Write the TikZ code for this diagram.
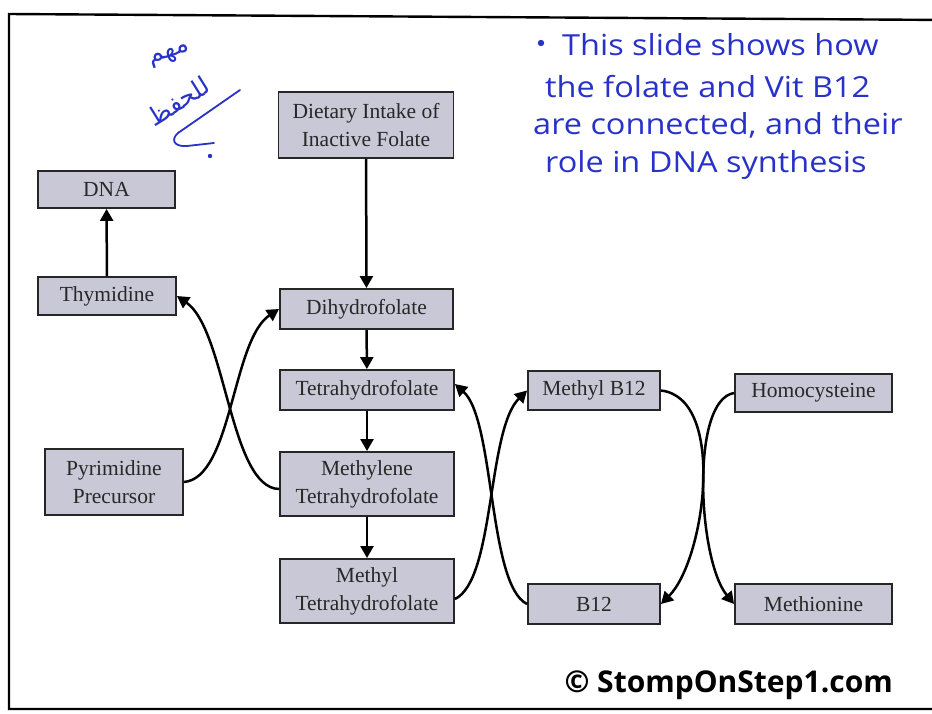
\documentclass[tikz,border=0pt]{standalone}
\usepackage{fontspec}
\setmainfont{Liberation Serif}
\newfontfamily\handfont{Open Sans}
\newfontfamily\markfont{Open Sans}
\newfontfamily\arabicfont[Script=Arabic]{DejaVu Sans}
\TeXXeTstate=1
\usetikzlibrary{arrows.meta}
\definecolor{boxfill}{RGB}{200,200,214}
\definecolor{ink}{RGB}{40,50,200}
\definecolor{boxtext}{RGB}{40,40,40}

\begin{document}
\begin{tikzpicture}[x=1pt,y=-1pt,
  box/.style={draw=black!85,line width=1.9pt,fill=boxfill,inner sep=0pt,align=center,
              font=\fontsize{21.5}{28}\selectfont,text=boxtext},
  flow/.style={line width=2.5pt,-{Triangle[length=12pt,width=13pt]}},
  note/.style={anchor=base west,text=ink,font=\handfont\fontsize{29}{30}\selectfont,inner sep=0pt},
  scrawl/.style={text=ink,inner sep=0pt,font=\arabicfont\fontsize{25}{26}\selectfont}]
\useasboundingbox (0,0) rectangle (932,713);
\fill[white] (0,0) rectangle (932,713);
% slide frame
\draw[line width=2.4pt] (950,20) -- (9,14) -- (9,709) -- (950,709);

% folate pathway boxes
\node[box,minimum width=175pt,minimum height=66pt] (diet) at (366,125) {Dietary Intake of\\Inactive Folate};
\node[box,minimum width=137pt,minimum height=37pt] (dna) at (106.5,189.5) {DNA};
\node[box,minimum width=138pt,minimum height=38pt] (thy) at (107,296) {Thymidine};
\node[box,minimum width=173pt,minimum height=40pt] (dhf) at (366.5,309) {Dihydrofolate};
\node[box,minimum width=174pt,minimum height=40pt] (thf) at (367,390) {Tetrahydrofolate};
\node[box,minimum width=174pt,minimum height=64pt] (mthf) at (367,484) {Methylene\\Tetrahydrofolate};
\node[box,minimum width=138pt,minimum height=66pt] (pyr) at (114,482) {Pyrimidine\\Precursor};
\node[box,minimum width=174pt,minimum height=64pt] (methf) at (367,591) {Methyl\\Tetrahydrofolate};
\node[box,minimum width=132pt,minimum height=39pt] (mb12) at (594,390.5) {Methyl B12};
\node[box,minimum width=132pt,minimum height=40pt] (b12) at (594,604) {B12};
\node[box,minimum width=157pt,minimum height=38pt] (hcy) at (813.5,393) {Homocysteine};
\node[box,minimum width=157pt,minimum height=40pt] (met) at (813.5,604) {Methionine};

% straight steps
\draw[flow] (diet) -- (dhf);
\draw[flow] (thy) -- (dna);
\draw[flow] (dhf) -- (thf);
\draw[flow] (thf) -- (mthf);
\draw[flow] (mthf) -- (methf);

% crossing reaction pairs
\draw[flow] (pyr.east) .. controls (232,478) and (232,340) .. (dhf.west);
\draw[flow] ([yshift=-5pt]mthf.west) .. controls (230,488) and (226,330) .. (thy.east);
\draw[flow] ([yshift=-8pt]methf.east) .. controls (495,580) and (487,430) .. (mb12.west);
\draw[flow] (b12.west) .. controls (488,585) and (495,420) .. ([yshift=6pt]thf.east);
\draw[flow] (mb12.east) .. controls (727,398) and (705,560) .. (b12.east);
\draw[flow] (hcy.west) .. controls (690,400) and (698,560) .. (met.west);

% handwritten note
\fill[ink] (541,43) circle (3.2pt);
\node[note] (n1) at (562,55) {\scalebox{1.12}[1]{This slide shows how}};
\node[note] (n2) at (545,97) {\scalebox{1.12}[1]{the folate and Vit B12}};
\node[note] (n3) at (533,134) {\scalebox{1.12}[1]{are connected, and their}};
\node[note] (n4) at (545,172) {\scalebox{1.12}[1]{role in DNA synthesis}};

% handwritten arabic remark
\node[scrawl,rotate=18] (ar1) at (170,56) {\beginR مهم\endR};
\node[scrawl,rotate=32] (ar2) at (178,101) {\beginR للحفظ\endR};
\draw[ink,line width=1.8pt,line cap=round,line join=round] (240,90) -- (178,133)
  .. controls (171,139) and (173,147) .. (187,146) -- (214,143);
\fill[ink] (210,156) circle (2.2pt);

% copyright mark
\node[anchor=base east,inner sep=0pt,font=\markfont\bfseries\fontsize{30}{31}\selectfont] (mark) at (893,692) {© StompOnStep1.com};
\end{tikzpicture}
\end{document}
